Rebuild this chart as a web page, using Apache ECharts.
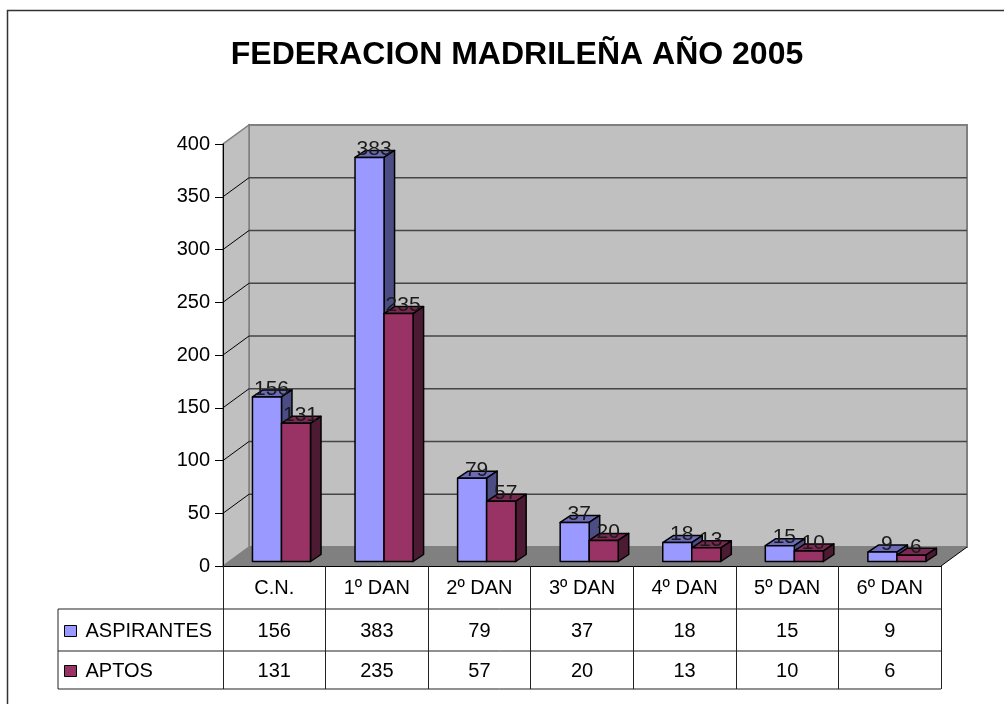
<!DOCTYPE html>
<html><head><meta charset="utf-8">
<script src="https://cdn.jsdelivr.net/npm/echarts@6/dist/echarts.min.js"></script>
<style>html,body{margin:0;padding:0;background:#fff}#c{width:1004px;height:704px}</style>
</head><body><div id="c"></div>
<script>
const categories = ['C.N.', '1º DAN', '2º DAN', '3º DAN', '4º DAN', '5º DAN', '6º DAN'];
const aspirantes = [156, 383, 79, 37, 18, 15, 9];
const aptos = [131, 235, 57, 20, 13, 10, 6];
const seriesNames = ['ASPIRANTES', 'APTOS'];
const yTicks = [0, 50, 100, 150, 200, 250, 300, 350, 400];
const titleText = 'FEDERACION MADRILEÑA AÑO 2005';

const FONT = '"Liberation Sans", Arial, sans-serif';
const FS = 20;
const WALL = {dx: 26, dy: -19};
const BAR = {dx: 7.2, dy: -4.5, depthX: 10.5, depthY: -7, widthRatio: 0.283};
const colors = [
  {front: '#9999ff', top: '#6b6bb8', side: '#4d4d85'},
  {front: '#993366', top: '#7a2952', side: '#4d1a33'}
];
const allValues = [aspirantes, aptos];

function barGeom(api, i, v, sIdx) {
  const base = api.coord([i, 0]);
  const topP = api.coord([i, v]);
  const bw = api.size([1, 0])[0] * BAR.widthRatio;
  const x0 = base[0] - bw + BAR.dx + sIdx * bw;
  return {x0: x0, x1: x0 + bw, yb: base[1] + BAR.dy, yt: topP[1] + BAR.dy, bw: bw};
}

function barRenderer(sIdx) {
  return function (params, api) {
    const i = api.value(0), v = api.value(1);
    const g = barGeom(api, i, v, sIdx);
    const c = colors[sIdx];
    const ddx = BAR.depthX, ddy = BAR.depthY;
    const st = {stroke: '#000', lineWidth: 1.5, lineJoin: 'round'};
    return {type: 'group', children: [
      {type: 'polygon', shape: {points: [[g.x0, g.yt], [g.x1, g.yt], [g.x1 + ddx, g.yt + ddy], [g.x0 + ddx, g.yt + ddy]]}, style: Object.assign({fill: c.top}, st)},
      {type: 'polygon', shape: {points: [[g.x1, g.yt], [g.x1 + ddx, g.yt + ddy], [g.x1 + ddx, g.yb + ddy], [g.x1, g.yb]]}, style: Object.assign({fill: c.side}, st)},
      {type: 'rect', shape: {x: g.x0, y: g.yt, width: g.bw, height: g.yb - g.yt}, style: Object.assign({fill: c.front}, st)}
    ]};
  };
}

function labelRenderer(params, api) {
  const children = [];
  allValues.forEach(function (arr, sIdx) {
    arr.forEach(function (v, i) {
      const g = barGeom(api, i, v, sIdx);
      children.push({type: 'text', style: {
        text: String(v), x: (g.x0 + g.x1) / 2 + 4.5, y: g.yt + 2.5,
        align: 'center', verticalAlign: 'bottom',
        font: '21px ' + FONT, fill: '#1a1a1a'
      }});
    });
  });
  return {type: 'group', children: children};
}

function wallRenderer(params, api) {
  const cs = params.coordSys;
  const xL = cs.x, xR = cs.x + cs.width, yB = cs.y + cs.height, yT = cs.y;
  const dx = WALL.dx, dy = WALL.dy;
  const ch = [];
  ch.push({type: 'rect', shape: {x: xL + dx, y: yT + dy, width: cs.width, height: cs.height}, style: {fill: '#c0c0c0', stroke: '#808080', lineWidth: 2}});
  ch.push({type: 'polygon', shape: {points: [[xL, yB], [xL, yT], [xL + dx, yT + dy], [xL + dx, yB + dy]]}, style: {fill: '#c0c0c0', stroke: '#808080', lineWidth: 1.5}});
  yTicks.forEach(function (v) {
    if (v <= 0 || v >= yTicks[yTicks.length - 1]) return;
    const y = api.coord([0, v])[1];
    ch.push({type: 'line', shape: {x1: xL + dx, y1: y + dy, x2: xR + dx, y2: y + dy}, style: {stroke: '#454545', lineWidth: 1.5}});
    ch.push({type: 'line', shape: {x1: xL, y1: y, x2: xL + dx, y2: y + dy}, style: {stroke: '#000', lineWidth: 1}});
  });
  ch.push({type: 'polygon', shape: {points: [[xL, yB], [xR, yB], [xR + dx, yB + dy], [xL + dx, yB + dy]]}, style: {fill: '#808080'}});
  ch.push({type: 'line', shape: {x1: xR, y1: yB, x2: xR + dx, y2: yB + dy}, style: {stroke: '#000', lineWidth: 1}});
  return {type: 'group', children: ch};
}

function tableRenderer(params, api) {
  const cs = params.coordSys;
  const xL = cs.x, xR = cs.x + cs.width, yB = cs.y + cs.height;
  const legL = xL - 165;
  const rows = [yB + 43, yB + 85, yB + 123];
  const ch = [];
  rows.forEach(function (y) {
    ch.push({type: 'line', shape: {x1: legL, y1: y, x2: xR, y2: y}, style: {stroke: '#222', lineWidth: 1}});
  });
  ch.push({type: 'line', shape: {x1: legL, y1: rows[0], x2: legL, y2: rows[2]}, style: {stroke: '#222', lineWidth: 1}});
  allValues.forEach(function (arr, sIdx) {
    const yc = (rows[sIdx] + rows[sIdx + 1]) / 2;
    arr.forEach(function (v, i) {
      const x = api.coord([i, 0])[0];
      ch.push({type: 'text', style: {text: String(v), x: x, y: yc + 1, align: 'center', verticalAlign: 'middle', font: FS + 'px ' + FONT, fill: '#000'}});
    });
  });
  return {type: 'group', children: ch};
}

const chart = echarts.init(document.getElementById('c'));
chart.setOption({
  animation: false,
  backgroundColor: '#fff',
  title: {
    text: titleText, left: 512, top: 34, textAlign: 'center',
    textStyle: {fontFamily: FONT, fontSize: 32, fontWeight: 'bold', color: '#000'}
  },
  legend: {
    orient: 'vertical', left: 64, top: 621, itemWidth: 12, itemHeight: 11, itemGap: 20, padding: 0,
    icon: 'rect',
    itemStyle: {borderColor: '#000', borderWidth: 1},
    textStyle: {fontFamily: FONT, fontSize: FS, color: '#000', lineHeight: 20, padding: [0, 0, 0, 4]},
    data: seriesNames
  },
  graphic: [{
    type: 'rect', shape: {x: 7.5, y: 10.5, width: 1200, height: 900},
    style: {fill: 'none', stroke: '#333', lineWidth: 1.5}, silent: true
  }],
  grid: {left: 223, right: 63, top: 144, bottom: 138, containLabel: false},
  xAxis: {
    type: 'category', data: categories, z: 5,
    axisLine: {lineStyle: {color: '#000', width: 1}},
    axisTick: {show: true, length: 123, lineStyle: {color: '#222', width: 1}},
    axisLabel: {fontFamily: FONT, fontSize: FS, color: '#000', margin: 12}
  },
  yAxis: {
    type: 'value', min: 0, max: 400, interval: 50, z: 5,
    axisLine: {show: true, lineStyle: {color: '#000', width: 1}},
    axisTick: {show: true, length: 8, lineStyle: {color: '#000'}},
    splitLine: {show: false},
    axisLabel: {fontFamily: FONT, fontSize: FS, color: '#000', margin: 13}
  },
  series: [
    {type: 'custom', name: 'walls', z: 1, renderItem: wallRenderer, data: [[0, 0]], silent: true},
    {type: 'custom', name: seriesNames[0], z: 2, renderItem: barRenderer(0),
      itemStyle: {color: colors[0].front},
      data: aspirantes.map(function (v, i) { return [i, v]; })},
    {type: 'custom', name: seriesNames[1], z: 3, renderItem: barRenderer(1),
      itemStyle: {color: colors[1].front},
      data: aptos.map(function (v, i) { return [i, v]; })},
    {type: 'custom', name: 'labels', z: 4, renderItem: labelRenderer, data: [[0, 0]], silent: true},
    {type: 'custom', name: 'table', z: 4, renderItem: tableRenderer, data: [[0, 0]], silent: true}
  ]
});
</script>
</body></html>
